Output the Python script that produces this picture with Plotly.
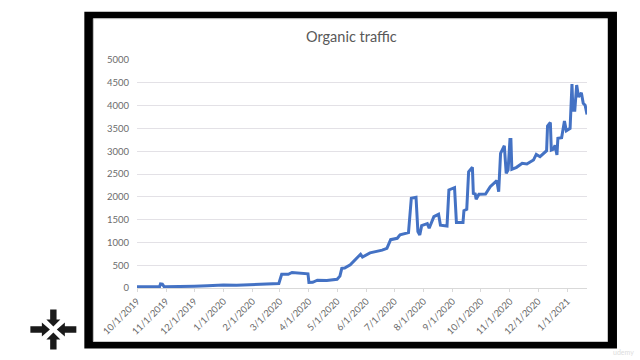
import plotly.graph_objects as go

dates = ["2019-10-01","2019-10-15","2019-10-25","2019-10-26","2019-10-28","2019-10-30","2019-11-15","2019-12-01","2019-12-15","2020-01-01","2020-01-15","2020-02-01","2020-02-15","2020-02-29","2020-03-03","2020-03-10","2020-03-14","2020-03-25","2020-03-31","2020-04-01","2020-04-05","2020-04-10","2020-04-20","2020-05-01","2020-05-04","2020-05-06","2020-05-09","2020-05-15","2020-05-21","2020-05-26","2020-05-28","2020-06-05","2020-06-18","2020-06-23","2020-06-27","2020-07-04","2020-07-07","2020-07-16","2020-07-19","2020-07-24","2020-07-26","2020-07-28","2020-07-30","2020-08-05","2020-08-07","2020-08-12","2020-08-17","2020-08-19","2020-08-26","2020-08-28","2020-09-03","2020-09-05","2020-09-12","2020-09-13","2020-09-16","2020-09-18","2020-09-22","2020-09-23","2020-09-25","2020-09-26","2020-09-29","2020-10-06","2020-10-11","2020-10-16","2020-10-18","2020-10-20","2020-10-22","2020-10-26","2020-10-28","2020-10-30","2020-11-01","2020-11-02","2020-11-03","2020-11-08","2020-11-14","2020-11-19","2020-11-26","2020-11-29","2020-12-03","2020-12-10","2020-12-11","2020-12-14","2020-12-15","2020-12-17","2020-12-19","2020-12-21","2020-12-22","2020-12-26","2020-12-29","2020-12-31","2021-01-04","2021-01-06","2021-01-07","2021-01-09","2021-01-11","2021-01-13","2021-01-16","2021-01-18","2021-01-20","2021-01-22"]
traffic = [25,25,25,90,85,25,25,40,50,65,60,75,80,100,300,300,340,330,310,120,125,170,165,190,260,430,440,510,640,740,680,770,830,870,1060,1090,1165,1215,1970,1990,1237,1164,1368,1412,1310,1565,1616,1376,1360,2150,2200,1434,1434,1697,1726,2550,2646,2076,2062,1945,2055,2062,2222,2332,2354,2113,2952,3120,2514,2587,3259,3259,2602,2646,2733,2719,2806,2930,2880,3011,3551,3631,3025,3040,3130,2916,3281,3295,3660,3449,3500,4470,3900,3900,4450,4190,4280,4050,4010,3806]
y_ticks = [0,500,1000,1500,2000,2500,3000,3500,4000,4500,5000]
title_text = "Organic traffic"

W, H = 640, 360
L, R, T, B = 136.7, 587.0, 59.5, 288.3
def px(x): return (x - L) / (R - L)
def py(y): return (B - y) / (B - T)

def poly(points):
    return "M " + " L ".join(f"{px(x):.5f},{py(y):.5f}" for x, y in points) + " Z"

cx, cy = 53.0, 330.0
shapes = [
    dict(type="rect", xref="paper", yref="paper", layer="below", x0=px(84), x1=px(617), y0=py(349), y1=py(11),
         fillcolor="#000000", line=dict(width=0)),
    dict(type="rect", xref="paper", yref="paper", layer="below", x0=px(93), x1=px(607.5), y0=py(342), y1=py(18),
         fillcolor="#ffffff", line=dict(color="#c8c8c8", width=1)),
]
arrow = [(0, -3), (-7, -10), (-3.2, -10), (-3.2, -20), (3.2, -20), (3.2, -10), (7, -10)]
for sign in (1, -1):
    shapes.append(dict(type="path", xref="paper", yref="paper", path=poly([(cx + p, cy + sign * q) for p, q in arrow]),
                       fillcolor="#1a1a1a", line=dict(width=0)))
    shapes.append(dict(type="path", xref="paper", yref="paper", path=poly([(cx + sign * q * 1.15, cy + p) for p, q in arrow]),
                       fillcolor="#1a1a1a", line=dict(width=0)))

fig = go.Figure(go.Scatter(x=dates, y=traffic, mode="lines", line=dict(color="#4472C4", width=3),
                           hoverinfo="skip"))
fig.update_layout(
    width=W, height=H, autosize=False,
    margin=dict(l=L, r=W - R, t=T, b=H - B, pad=0),
    paper_bgcolor="#ffffff", plot_bgcolor="#ffffff", showlegend=False,
    font=dict(family="Lato, Open Sans, sans-serif", color="#6b6b6b", size=10),
    shapes=shapes,
    annotations=[
        dict(text=title_text, xref="paper", yref="paper", x=px(351), y=py(35.5), showarrow=False,
             font=dict(size=14.5, color="#595959"), xanchor="center", yanchor="middle"),
        dict(text="udemy", xref="paper", yref="paper", x=px(624), y=py(353), showarrow=False,
             font=dict(size=7, color="#dddddd"), xanchor="center", yanchor="middle"),
    ],
)
fig.update_xaxes(type="date", range=["2019-10-01", "2021-01-22"], dtick="M1", tick0="2019-10-01",
                 tickformat="%-m/%-d/%Y", tickangle=-45, ticks="outside", ticklen=3, tickcolor="#d9d9d9",
                 showgrid=False, showline=True, linecolor="#d9d9d9", linewidth=1, zeroline=False,
                 tickfont=dict(size=9.5, color="#6b6b6b"))
fig.update_yaxes(range=[0, 5000], tickvals=y_ticks, showgrid=True, gridcolor="#e3e1e6", gridwidth=1,
                 zeroline=False, showline=False, ticks="", ticklabelstandoff=7,
                 tickfont=dict(size=9.5, color="#6b6b6b"))
fig.write_html("out.html", config={"displayModeBar": False},
               post_script="document.body.style.margin='0';document.documentElement.style.overflow='hidden';window.dispatchEvent(new Event('resize'));")
